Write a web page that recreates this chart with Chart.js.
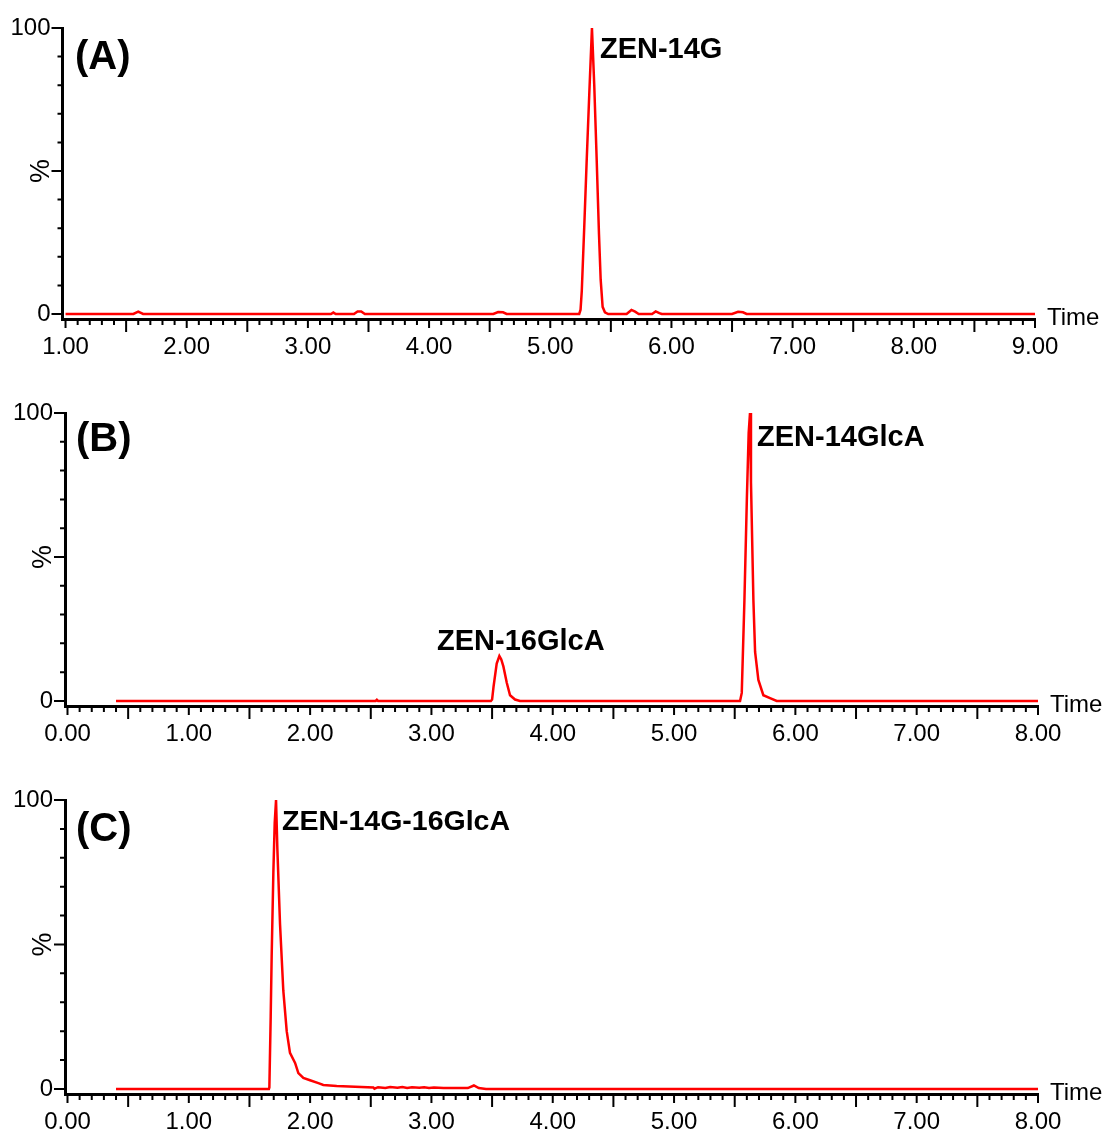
<!DOCTYPE html>
<html><head><meta charset="utf-8">
<script src="https://cdn.jsdelivr.net/npm/chart.js@4.4.1/dist/chart.umd.min.js"></script>
<style>
html,body{margin:0;padding:0;background:#fff;}
body{width:1107px;height:1131px;position:relative;overflow:hidden;}
canvas{position:absolute;left:0;}
</style></head><body>
<canvas id="cA" width="1107" height="375" style="top:0px"></canvas>
<canvas id="cB" width="1107" height="375" style="top:385px"></canvas>
<canvas id="cC" width="1107" height="361" style="top:770px"></canvas>
<script>
// ---------------- DATA ----------------
const panelLabels = ['(A)', '(B)', '(C)'];
const peakNamesA = ['ZEN-14G'];
const peakNamesB = ['ZEN-16GlcA', 'ZEN-14GlcA'];
const peakNamesC = ['ZEN-14G-16GlcA'];
const xAxisTitle = 'Time';
const yAxisTitle = '%';

const xTickLabelsA = ['1.00','2.00','3.00','4.00','5.00','6.00','7.00','8.00','9.00'];
const xTickLabelsBC = ['0.00','1.00','2.00','3.00','4.00','5.00','6.00','7.00','8.00'];
const yTickValues = [0, 50, 100];
const yTickLabels = ['0', '', '100'];

// Panel A: ZEN-14G
const timeA = [1.00, 1.56, 1.60, 1.64, 3.19, 3.21, 3.23, 3.38, 3.41, 3.44, 3.47, 4.53, 4.57, 4.61, 4.64,
  5.239, 5.250, 5.260, 5.280, 5.300, 5.322, 5.344, 5.363, 5.383, 5.402, 5.416, 5.432, 5.451, 5.478,
  5.63, 5.67, 5.70, 5.73, 5.84, 5.87, 5.90, 5.92, 6.50, 6.55, 6.59, 6.62, 9.00];
const intensityA = [0, 0, 0.8, 0, 0, 0.5, 0, 0, 0.9, 0.9, 0, 0, 0.7, 0.6, 0,
  0, 1.5, 8, 30, 53, 77, 100, 80, 54, 28, 12, 2.5, 0.6, 0,
  0, 1.4, 0.8, 0, 0, 0.9, 0.3, 0, 0, 0.8, 0.6, 0, 0];

// Panel B: ZEN-16GlcA and ZEN-14GlcA
const timeB = [0.40, 2.54, 2.55, 2.56,
  3.490, 3.500, 3.512, 3.538, 3.560, 3.575, 3.593, 3.621, 3.648, 3.689, 3.730,
  5.544, 5.558, 5.580, 5.600, 5.615, 5.626, 5.634, 5.654, 5.668, 5.695, 5.736, 5.791, 5.846, 8.00];
const intensityB = [0, 0, 0.4, 0,
  0, 0.5, 5, 13, 15.6, 14.5, 12, 6.3, 2, 0.5, 0,
  0, 2.8, 35, 70, 93, 100, 76, 35, 17, 7.3, 2, 1, 0, 0];

// Panel C: ZEN-14G-16GlcA
const timeC = [0.40, 1.660, 1.664, 1.675, 1.683, 1.697, 1.708, 1.719, 1.730, 1.752, 1.779, 1.807, 1.834,
  1.876, 1.903, 1.944, 1.999, 2.068, 2.109, 2.219, 2.521, 2.53, 2.56, 2.62, 2.66, 2.72, 2.76, 2.80,
  2.84, 2.90, 2.94, 2.98, 3.02, 3.10, 3.30, 3.35, 3.39, 3.45, 8.00];
const intensityC = [0, 0, 0.5, 25, 46, 75, 92, 100, 83, 57, 34, 20, 12.5,
  9, 5.5, 3.8, 3, 2, 1.4, 1, 0.5, 0.1, 0.6, 0.3, 0.7, 0.4, 0.7, 0.3,
  0.6, 0.4, 0.6, 0.3, 0.5, 0.3, 0.3, 1.2, 0.3, 0, 0];

// ---------------- LAYOUT / STYLE ----------------
Chart.defaults.font.family = "'Liberation Sans', Arial, sans-serif";
Chart.defaults.color = '#000';

const panels = [
  { id: 'cA', h: 375, time: timeA, y: intensityA, xLabels: xTickLabelsA, xMin: 0.975, xMax: 9.0,
    area: { left: 62.5, right: 1035, top: 28, bottom: 319 },
    texts: [
      { t: panelLabels[0], x: 1.078, v: 85.7, size: 40 },
      { t: peakNamesA[0], x: 5.41, v: 89.5, size: 29 }
    ] },
  { id: 'cB', h: 375, time: timeB, y: intensityB, xLabels: xTickLabelsBC, xMin: -0.0206, xMax: 8.0,
    area: { left: 65, right: 1038, top: 28, bottom: 321 },
    texts: [
      { t: panelLabels[1], x: 0.07, v: 86.8, size: 40 },
      { t: peakNamesB[0], x: 3.046, v: 17.7, size: 29 },
      { t: peakNamesB[1], x: 5.684, v: 88.5, size: 29 }
    ] },
  { id: 'cC', h: 361, time: timeC, y: intensityC, xLabels: xTickLabelsBC, xMin: -0.0206, xMax: 8.0,
    area: { left: 65, right: 1038, top: 30, bottom: 324 },
    texts: [
      { t: panelLabels[2], x: 0.07, v: 85.8, size: 40 },
      { t: peakNamesC[0], x: 1.768, v: 89.6, size: 28.5 }
    ] }
];

const decorPlugin = {
  id: 'decor',
  afterDraw(chart, args, opts) {
    const ctx = chart.ctx;
    const xs = chart.scales.x, ys = chart.scales.y;
    const a = chart.chartArea;
    const p = opts.panel;
    const first = Number(p.xLabels[0]), last = Number(p.xLabels[p.xLabels.length - 1]);
    ctx.save();
    ctx.strokeStyle = '#000';
    ctx.lineWidth = 2;
    ctx.beginPath();
    for (let i = Math.round(first * 10); i <= Math.round(last * 10); i++) {
      const px = xs.getPixelForValue(i / 10);
      const len = (i % 10 === 0) ? 9 : (i % 5 === 0 ? 13 : 6);
      ctx.moveTo(px, a.bottom);
      ctx.lineTo(px, a.bottom + len);
    }
    for (let v = 0; v <= 100; v += 10) {
      const py = ys.getPixelForValue(v);
      const len = (v % 50 === 0) ? 11 : 5;
      ctx.moveTo(a.left, py);
      ctx.lineTo(a.left - len, py);
    }
    ctx.stroke();
    // axis titles
    ctx.fillStyle = '#000';
    ctx.font = "24px 'Liberation Sans', Arial, sans-serif";
    ctx.textAlign = 'left';
    ctx.textBaseline = 'alphabetic';
    ctx.fillText(xAxisTitle, a.right + 12, a.bottom + 6);
    ctx.save();
    ctx.translate(a.left - 21, ys.getPixelForValue(50));
    ctx.rotate(-Math.PI / 2);
    ctx.font = "27px 'Liberation Sans', Arial, sans-serif";
    ctx.textAlign = 'center';
    ctx.textBaseline = 'middle';
    ctx.fillText(yAxisTitle, 0, 0);
    ctx.restore();
    // annotations
    for (const t of p.texts) {
      ctx.font = "bold " + t.size + "px 'Liberation Sans', Arial, sans-serif";
      ctx.textAlign = 'left';
      ctx.textBaseline = 'alphabetic';
      ctx.fillText(t.t, xs.getPixelForValue(t.x), ys.getPixelForValue(t.v));
    }
    ctx.restore();
  }
};

for (const p of panels) {
  const pts = p.time.map((t, i) => ({ x: t, y: p.y[i] }));
  new Chart(document.getElementById(p.id), {
    type: 'line',
    data: { datasets: [{ data: pts, borderColor: '#ff0000', borderWidth: 2.5, pointRadius: 0,
      tension: 0, fill: false, clip: 6 }] },
    options: {
      responsive: false, animation: false, devicePixelRatio: 1,
      layout: { padding: { left: 0, top: p.area.top, right: 1107 - p.area.right, bottom: 0 } },
      plugins: { legend: { display: false }, tooltip: { enabled: false }, decor: { panel: p } },
      scales: {
        x: {
          type: 'linear', position: 'bottom', min: p.xMin, max: p.xMax,
          grid: { display: true, drawOnChartArea: false, drawTicks: true, tickLength: 0, color: 'rgba(0,0,0,0)' },
          border: { display: true, color: '#000', width: 3 },
          afterBuildTicks: (s) => { s.ticks = p.xLabels.map(l => ({ value: Number(l) })); },
          afterFit: (s) => { s.height = p.h - p.area.bottom; s.paddingLeft = 0; s.paddingRight = 0; },
          ticks: { autoSkip: false, maxRotation: 0, padding: 14, font: { size: 24 }, color: '#000',
            callback: (v, i) => p.xLabels[i] }
        },
        y: {
          type: 'linear', min: -1.75, max: 100,
          grid: { display: true, drawOnChartArea: false, drawTicks: true, tickLength: 0, color: 'rgba(0,0,0,0)' },
          border: { display: true, color: '#000', width: 3 },
          afterBuildTicks: (s) => { s.ticks = yTickValues.map(v => ({ value: v })); },
          afterFit: (s) => { s.width = p.area.left; s.paddingTop = 0; s.paddingBottom = 0; },
          ticks: { autoSkip: false, padding: 12, font: { size: 24 }, color: '#000',
            callback: (v, i) => yTickLabels[i] }
        }
      }
    },
    plugins: [decorPlugin]
  });
}
</script>
</body></html>
